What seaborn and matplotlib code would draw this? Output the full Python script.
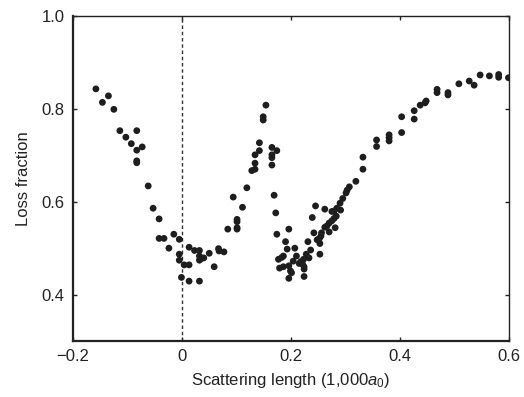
import pandas as pd
import matplotlib
matplotlib.use("Agg")
import matplotlib.pyplot as plt
import seaborn as sns

# scattering length (units of 1,000 a0) and measured loss fraction
scat_len = [
    -0.158, -0.146, -0.135, -0.125, -0.114, -0.103, -0.083, -0.093, -0.083, -0.073,
    -0.083, -0.083, -0.062, -0.053, -0.042, -0.042, -0.033, -0.024, -0.015, -0.005,
    -0.005, -0.005, -0.001, 0.004, 0.013, 0.013, 0.013, 0.023, 0.032, 0.032,
    0.032, 0.036, 0.040, 0.032, 0.050, 0.059, 0.067, 0.068, 0.077, 0.084,
    0.094, 0.101, 0.101, 0.101, 0.101, 0.111, 0.119, 0.128, 0.134, 0.134,
    0.134, 0.142, 0.142, 0.149, 0.149, 0.154, 0.165, 0.174, 0.165, 0.165,
    0.165, 0.169, 0.172, 0.174, 0.177, 0.179,
    0.183, 0.186, 0.186, 0.196, 0.199, 0.201, 0.196, 0.224, 0.190, 0.193,
    0.196, 0.207, 0.210, 0.204, 0.215, 0.218, 0.221, 0.224, 0.224, 0.223,
    0.228, 0.233, 0.236, 0.231, 0.253, 0.242, 0.256, 0.255, 0.252, 0.248,
    0.253, 0.270, 0.281, 0.262, 0.266, 0.270, 0.275, 0.279, 0.283, 0.239,
    0.262, 0.245, 0.275, 0.279, 0.284, 0.291, 0.290, 0.295, 0.301, 0.303,
    0.307, 0.319, 0.332, 0.332,
    0.357, 0.357, 0.380, 0.380, 0.380, 0.403, 0.403, 0.426, 0.426, 0.437,
    0.446, 0.448, 0.468, 0.468, 0.488, 0.488, 0.508, 0.527, 0.536, 0.547,
    0.564, 0.581, 0.581, 0.599,
]
loss_frac = [
    0.843, 0.814, 0.828, 0.799, 0.753, 0.739, 0.753, 0.725, 0.711, 0.718,
    0.688, 0.684, 0.634, 0.586, 0.563, 0.521, 0.521, 0.500, 0.530, 0.519,
    0.487, 0.474, 0.437, 0.464, 0.464, 0.429, 0.502, 0.495, 0.495, 0.483,
    0.474, 0.478, 0.479, 0.429, 0.489, 0.460, 0.499, 0.494, 0.492, 0.541,
    0.610, 0.562, 0.557, 0.544, 0.541, 0.588, 0.630, 0.667, 0.670, 0.683,
    0.701, 0.710, 0.727, 0.776, 0.783, 0.808, 0.717, 0.710, 0.701, 0.695,
    0.679, 0.614, 0.576, 0.530, 0.476, 0.457,
    0.480, 0.483, 0.460, 0.462, 0.451, 0.447, 0.435, 0.439, 0.514, 0.498,
    0.541, 0.500, 0.483, 0.472, 0.467, 0.471, 0.466, 0.460, 0.455, 0.476,
    0.487, 0.479, 0.496, 0.514, 0.487, 0.533, 0.533, 0.526, 0.521, 0.518,
    0.510, 0.535, 0.544, 0.545, 0.548, 0.554, 0.559, 0.564, 0.569, 0.566,
    0.584, 0.591, 0.579, 0.580, 0.586, 0.582, 0.597, 0.607, 0.619, 0.625,
    0.632, 0.644, 0.670, 0.696,
    0.733, 0.719, 0.744, 0.738, 0.731, 0.783, 0.749, 0.796, 0.778, 0.808,
    0.813, 0.817, 0.842, 0.835, 0.835, 0.830, 0.854, 0.860, 0.851, 0.873,
    0.871, 0.874, 0.868, 0.867,
]

x_ticks = [-0.2, 0, 0.2, 0.4, 0.6]
x_tick_labels = ["\u22120.2", "0", "0.2", "0.4", "0.6"]
y_ticks = [0.4, 0.6, 0.8, 1.0]
y_tick_labels = ["0.4", "0.6", "0.8", "1.0"]

sns.set_style("ticks")
plt.rcParams["font.family"] = ["Liberation Sans", "DejaVu Sans"]
plt.rcParams["mathtext.fontset"] = "custom"
plt.rcParams["mathtext.rm"] = "Liberation Sans"
plt.rcParams["mathtext.it"] = "Liberation Sans:italic"

df = pd.DataFrame({"scat": scat_len, "loss": loss_frac})

fig = plt.figure(figsize=(5.24, 3.97), dpi=100)
ax = fig.add_axes([0.1393, 0.141, 0.8321, 0.8187])

ax.axvline(0, color="#333333", lw=1.0, ls=(0, (2.5, 2)), zorder=1)
sns.scatterplot(data=df, x="scat", y="loss", ax=ax, color="#1e1e1e",
                s=24, edgecolor="none", linewidth=0, zorder=3)

ax.set_xlim(-0.2, 0.6)
ax.set_ylim(0.3, 1.0)
ax.set_xticks(x_ticks)
ax.set_xticklabels(x_tick_labels)
ax.set_yticks(y_ticks)
ax.set_yticklabels(y_tick_labels)
ax.tick_params(direction="in", length=3, width=1, labelsize=12,
               colors="#222222", top=True, right=True, pad=6)
ax.set_xlabel("Scattering length (1,000$a_0$)", fontsize=12, color="#222222", labelpad=5)
ax.set_ylabel("Loss fraction", fontsize=12, color="#222222", labelpad=8)

for side in ["left", "bottom"]:
    ax.spines[side].set_linewidth(1.6)
    ax.spines[side].set_color("#222222")
for side in ["top", "right"]:
    ax.spines[side].set_linewidth(1.0)
    ax.spines[side].set_color("#222222")

fig.savefig("out.png", dpi=100)
